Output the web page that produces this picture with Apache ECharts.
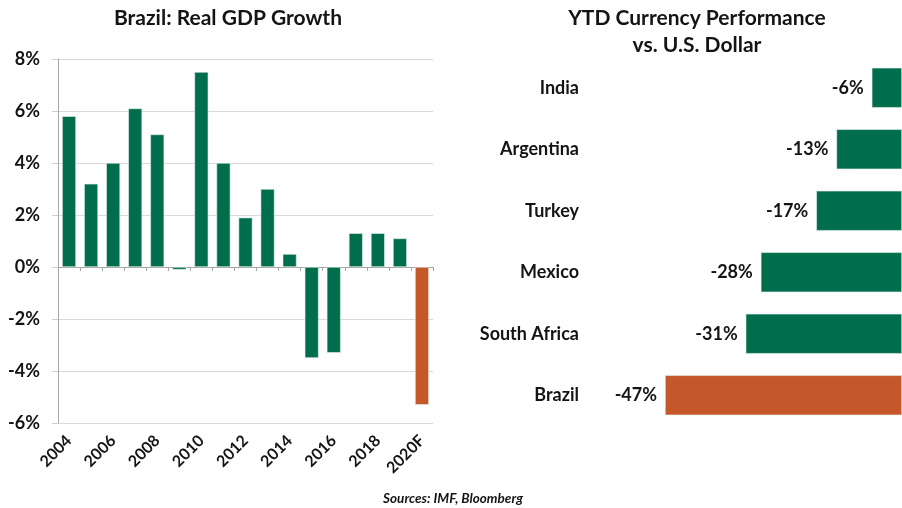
<!DOCTYPE html>
<html>
<head>
<meta charset="utf-8">
<script src="https://cdn.jsdelivr.net/npm/echarts@6/dist/echarts.min.js"></script>
<style>html,body{margin:0;padding:0;background:#fff}#c{width:902px;height:508px}</style>
</head>
<body>
<div id="c"></div>
<script>
const years = ['2004','2005','2006','2007','2008','2009','2010','2011','2012','2013','2014','2015','2016','2017','2018','2019','2020F'];
const gdpGrowth = [5.8, 3.2, 4.0, 6.1, 5.1, -0.1, 7.5, 4.0, 1.9, 3.0, 0.5, -3.5, -3.3, 1.3, 1.3, 1.1, -5.3];
const countries = ['India','Argentina','Turkey','Mexico','South Africa','Brazil'];
const currencyPerf = [-6, -13, -17, -28, -31, -47];
const gdpTicks = [-6, -4, -2, 0, 2, 4, 6, 8];

const GREEN = '#006e4d';
const ORANGE = '#c5582a';
const TXT = '#141414';
const FONT = 'Lato, "Open Sans", sans-serif';

const chart = echarts.init(document.getElementById('c'));
chart.setOption({
  animation: false,
  backgroundColor: '#fff',
  textStyle: { fontFamily: FONT },
  graphic: [
    { type: 'text', x: 228, y: 18, style: { text: 'Brazil: Real GDP Growth', textAlign: 'center', textVerticalAlign: 'middle', font: 'bold 21px ' + FONT, fill: TXT } },
    { type: 'text', x: 697, y: 18, style: { text: 'YTD Currency Performance', textAlign: 'center', textVerticalAlign: 'middle', font: 'bold 21px ' + FONT, fill: TXT } },
    { type: 'text', x: 697, y: 45, style: { text: 'vs. U.S. Dollar', textAlign: 'center', textVerticalAlign: 'middle', font: 'bold 21px ' + FONT, fill: TXT } },
    { type: 'text', x: 453, y: 499, style: { text: 'Sources: IMF, Bloomberg', textAlign: 'center', textVerticalAlign: 'middle', font: 'italic bold 13.5px ' + FONT, fill: TXT } }
  ],
  grid: [
    { left: 58, right: 469, top: 59, bottom: 85 },
    { left: 665, right: -8, top: 57, bottom: 82 }
  ],
  xAxis: [
    { type: 'category', gridIndex: 0, data: years, position: 'bottom',
      axisLine: { show: false, onZero: false }, axisTick: { show: false },
      axisLabel: { interval: 1, rotate: 45, margin: 15, fontWeight: 'bold', fontSize: 16, color: TXT, fontFamily: FONT } },
    { type: 'category', gridIndex: 0, data: years, position: 'top',
      axisLine: { show: true, onZero: true, lineStyle: { color: '#a6a6a6', width: 1 } },
      axisTick: { show: true, inside: true, interval: 0, length: 4, lineStyle: { color: '#a6a6a6' } },
      axisLabel: { show: false } },
    { type: 'value', gridIndex: 1, min: -47, max: 0, show: false }
  ],
  yAxis: [
    { type: 'value', gridIndex: 0, min: gdpTicks[0], max: gdpTicks[gdpTicks.length - 1], interval: 2,
      axisLine: { show: true, lineStyle: { color: '#a6a6a6' } },
      axisTick: { show: true, length: 6, lineStyle: { color: '#d0d0d0' } },
      splitLine: { show: true, lineStyle: { color: '#d9d9d9' } },
      axisLabel: { formatter: '{value}%', fontWeight: 'bold', fontSize: 18, color: TXT, margin: 18, fontFamily: FONT } },
    { type: 'category', gridIndex: 1, data: countries, inverse: true,
      axisLine: { show: false, onZero: false }, axisTick: { show: false }, splitLine: { show: false },
      axisLabel: { fontWeight: 'bold', fontSize: 18, color: TXT, margin: 86, fontFamily: FONT } }
  ],
  series: [
    { type: 'bar', xAxisIndex: 0, yAxisIndex: 0, barWidth: '63%',
      itemStyle: { borderColor: '#e6efe9', borderWidth: 0.6 },
      data: gdpGrowth.map((v, i) => ({ value: v, itemStyle: { color: years[i] === '2020F' ? ORANGE : GREEN } })) },
    { type: 'bar', xAxisIndex: 2, yAxisIndex: 1, barWidth: '65%',
      itemStyle: { borderColor: '#e6efe9', borderWidth: 0.6 },
      data: currencyPerf.map((v, i) => ({ value: v, itemStyle: { color: countries[i] === 'Brazil' ? ORANGE : GREEN } })),
      label: { show: true, position: 'left', distance: 8, formatter: p => p.value + '%', fontWeight: 'bold', fontSize: 18, color: TXT, fontFamily: FONT } }
  ]
});
</script>
</body>
</html>
